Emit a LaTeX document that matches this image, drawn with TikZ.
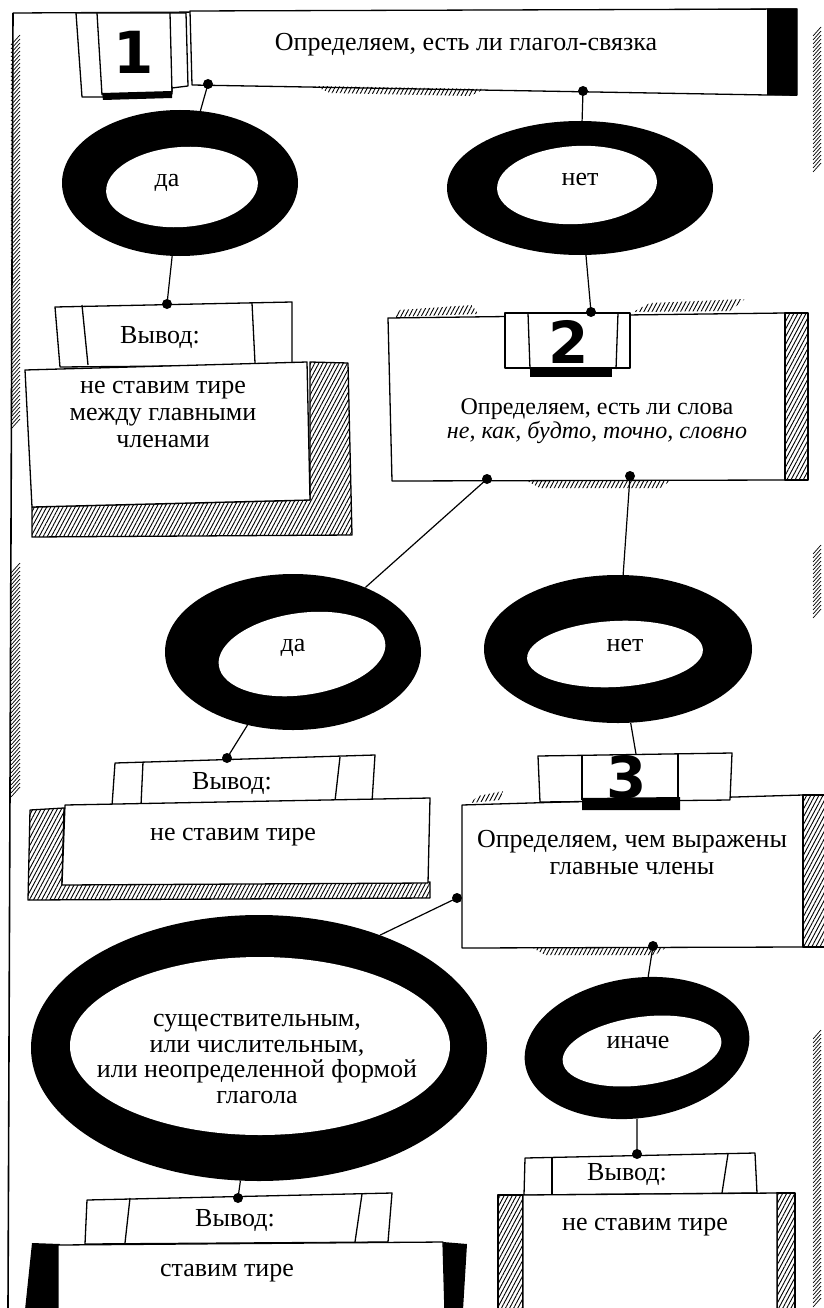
\documentclass[tikz,border=0pt]{standalone}
\usepackage{fontspec}
\setmainfont{Liberation Serif}
\newfontfamily\digitfont{DejaVu Sans}
\usetikzlibrary{shapes.geometric,patterns.meta}
\newcommand\mainsize{\fontsize{26}{27}\selectfont}
\tikzset{
 ln/.style={line width=1.3pt, line join=round},
 boxfill/.style={ln, fill=white},
 hatchfill/.style={pattern={Lines[angle=62,distance=3.6pt,line width=0.9pt]}},
 hatchbox/.style={ln, hatchfill},
 ring/.style={ellipse, fill=black, inner sep=0pt},
 hole/.style={ellipse, fill=white, inner sep=0pt},
 conn/.style={line width=1.2pt},
 txt/.style={font=\mainsize, align=center, inner sep=0pt},
 digit/.style={font=\digitfont\bfseries\fontsize{58}{58}\selectfont, inner sep=0pt},
 edgehatch/.style={line width=0.7pt},
}
\begin{document}
\begin{tikzpicture}[x=1pt,y=-1pt]
\useasboundingbox[fill=white] (0,0) rectangle (823,1308);

% ---------- frame and edge hatching ----------
\draw[ln] (13,13) -- (797,9);
\draw[line width=1.6pt] (13,13) -- (8,1308);
\foreach \yy in {35,39,...,420} { \draw[edgehatch] (11,\yy+10) -- (20,\yy); }
\foreach \yy in {563,567,...,790} { \draw[edgehatch] (11,\yy+10) -- (20,\yy); }
\foreach \yy in {27,31,...,165} { \draw[edgehatch] (813,\yy+9) -- (821,\yy); }
\foreach \yy in {545,549,...,610} { \draw[edgehatch] (813,\yy+9) -- (821,\yy); }
\foreach \yy in {1030,1034,...,1300} { \draw[edgehatch] (813,\yy+9) -- (821,\yy); }

% ---------- box 1 ----------
\draw[boxfill] (190,11) -- (797,9) -- (797,95) -- (767,95) -- (192,85) -- cycle;
\fill (767,9) -- (797,9) -- (797,96) -- (767,95) -- cycle;
\fill[hatchfill] (315,86) -- (485,89) -- (470,96) -- (330,93) -- cycle;
\draw[boxfill] (76,13) -- (186,13) -- (188,86) -- (172,88) -- (172,94) -- (102,97) -- (82,97) -- cycle;
\draw[ln] (97,13) -- (102,95);
\draw[ln] (170,13) -- (172,92);
\fill (102,93) -- (172,91) -- (172,98) -- (103,100) -- cycle;
\node[digit] (n1) at (134,52) {1};
\node[txt] (t1) at (466,45) {Определяем, есть ли глагол-связка};
\coordinate (d1a) at (208,84);
\coordinate (d1b) at (583,91);

% ---------- ellipse да (1) ----------
\node[ring, minimum width=236pt, minimum height=146pt] (e1) at (180,183) {};
\node[hole, minimum width=152pt, minimum height=80pt, rotate=4] (e1i) at (182,187) {};
\node[txt] (e1t) at (167,183) {да};

% ---------- ellipse нет (1) ----------
\node[ring, minimum width=266pt, minimum height=134pt] (e2) at (580,188) {};
\node[hole, minimum width=160pt, minimum height=78pt, rotate=3] (e2i) at (577,185) {};
\node[txt] (e2t) at (580,180) {нет};

% ---------- Вывод 1 ----------
\draw[boxfill] (55,307) -- (292,302) -- (292,365) -- (60,367) -- cycle;
\draw[ln] (82,305) -- (88,365);
\draw[ln] (252,303) -- (255,363);
\node[txt] (v1) at (160,337) {Вывод:};
\draw[hatchbox] (310,362) -- (348,363) -- (352,535) -- (32,537) -- (32,507) -- (310,500) -- cycle;
\draw[boxfill] (25,370) -- (307,362) -- (310,500) -- (32,507) -- cycle;
\node[txt] (r1) at (163,414) {не ставим тире\\между главными\\членами};
\coordinate (d2) at (167,304);

% ---------- box 2 ----------
\fill[hatchfill] (393,317) -- (400,310) -- (472,305) -- (478,314) -- cycle;
\fill[hatchfill] (633,312) -- (650,303) -- (745,299) -- (730,311) -- cycle;
\fill[hatchfill] (527,481) -- (673,479) -- (660,488) -- (540,488) -- cycle;
\draw[boxfill] (388,318) -- (785,313) -- (785,480) -- (392,481) -- cycle;
\draw[hatchbox] (785,313) -- (808,313) -- (808,480) -- (785,480) -- cycle;
\draw[boxfill] (505,313) -- (630,313) -- (630,368) -- (505,368) -- cycle;
\draw[ln] (528,313) -- (530,369);
\draw[ln] (618,313) -- (616,369);
\fill (530,367) -- (612,367) -- (612,377) -- (530,377) -- cycle;
\node[digit] (n2) at (569,342) {2};
\node[txt, font=\fontsize{24}{24}\selectfont] (t2) at (597,421) {Определяем, есть ли слова\\\textit{не, как, будто, точно, словно}};
\coordinate (d3) at (591,312);
\coordinate (d4) at (487,479);
\coordinate (d5) at (630,476);

% ---------- ellipse да (2) ----------
\node[ring, minimum width=256pt, minimum height=156pt] (e3) at (293,652) {};
\node[hole, minimum width=168pt, minimum height=82pt, rotate=8] (e3i) at (302,654) {};
\node[txt] (e3t) at (293,648) {да};

% ---------- ellipse нет (2) ----------
\node[ring, minimum width=268pt, minimum height=148pt] (e4) at (618,649) {};
\node[hole, minimum width=176pt, minimum height=66pt, rotate=3] (e4i) at (615,654) {};
\node[txt] (e4t) at (625,645) {нет};

% ---------- Вывод 2 ----------
\draw[boxfill] (115,763) -- (375,755) -- (372,802) -- (112,806) -- cycle;
\draw[ln] (143,762) -- (141,805);
\draw[ln] (340,757) -- (335,801);
\node[txt] (v2) at (232,783) {Вывод:};
\draw[hatchbox] (30,810) -- (64,808) -- (62,884) -- (430,882) -- (430,898) -- (28,900) -- cycle;
\draw[boxfill] (65,805) -- (430,798) -- (428,883) -- (62,885) -- cycle;
\node[txt] (r2) at (233,837) {не ставим тире};
\coordinate (d6) at (227,758);

% ---------- box 3 ----------
\fill[hatchfill] (470,803) -- (478,796) -- (503,791) -- (500,800) -- cycle;
\fill[hatchfill] (533,948) -- (667,947) -- (655,955) -- (545,955) -- cycle;
\draw[boxfill] (462,805) -- (803,795) -- (803,947) -- (462,948) -- cycle;
\draw[hatchbox] (803,795) -- (825,795) -- (825,947) -- (803,947) -- cycle;
\draw[boxfill] (538,756) -- (732,753) -- (730,800) -- (540,802) -- cycle;
\draw[ln] (582,755) -- (582,800);
\draw[ln] (678,754) -- (678,800);
\fill (582,798) -- (680,797) -- (680,810) -- (582,810) -- cycle;
\node[digit] (n3) at (627,777) {3};
\node[txt] (t3) at (632,853) {Определяем, чем выражены\\главные члены};
\coordinate (c3) at (636,754);
\coordinate (d7) at (457,898);
\coordinate (d8) at (653,946);

% ---------- big ellipse ----------
\node[ring, minimum width=456pt, minimum height=266pt] (e5) at (259,1048) {};
\node[hole, minimum width=380pt, minimum height=178pt] (e5i) at (260,1046) {};
\node[txt, font=\fontsize{26}{25.5}\selectfont] (e5t) at (257,1059) {существительным,\\или числительным,\\или неопределенной формой\\глагола};
\coordinate (d9) at (238,1198);

% ---------- ellipse иначе ----------
\node[ring, minimum width=226pt, minimum height=140pt, rotate=8] (e6) at (637,1048) {};
\node[hole, minimum width=160pt, minimum height=68pt, rotate=8] (e6i) at (642,1051) {};
\node[txt] (e6t) at (638,1042) {иначе};
\coordinate (d10) at (637,1154);

% ---------- Вывод 3 ----------
\draw[boxfill] (87,1200) -- (392,1193) -- (388,1242) -- (85,1244) -- cycle;
\draw[ln] (130,1198) -- (125,1243);
\draw[ln] (362,1194) -- (355,1242);
\node[txt] (v3) at (235,1220) {Вывод:};
\fill (32,1243) -- (60,1244) -- (58,1310) -- (25,1310) -- cycle;
\fill (443,1242) -- (467,1244) -- (463,1310) -- (445,1310) -- cycle;
\draw[boxfill] (58,1245) -- (443,1242) -- (445,1312) -- (58,1312) -- cycle;
\node[txt] (r3) at (227,1273) {ставим тире};

% ---------- Вывод 4 ----------
\draw[boxfill] (525,1158) -- (755,1153) -- (757,1193) -- (524,1195) -- cycle;
\draw[ln] (552,1157) -- (552,1195);
\draw[ln] (728,1154) -- (722,1193);
\node[txt] (v4) at (627,1174) {Вывод:};
\draw[hatchbox] (498,1195) -- (523,1195) -- (523,1312) -- (498,1312) -- cycle;
\draw[hatchbox] (777,1193) -- (795,1193) -- (795,1312) -- (777,1312) -- cycle;
\draw[boxfill] (523,1195) -- (777,1193) -- (777,1312) -- (523,1312) -- cycle;
\node[txt] (r4) at (645,1227) {не ставим тире};

% ---------- connectors ----------
\draw[conn] (d1a) -- (e1);
\draw[conn] (e1) -- (d2);
\draw[conn] (d1b) -- (e2);
\draw[conn] (e2) -- (d3);
\draw[conn] (d4) -- (e3);
\draw[conn] (e3) -- (d6);
\draw[conn] (d5) -- (e4);
\draw[conn] (e4) -- (c3);
\draw[conn] (d7) -- (e5.43);
\draw[conn] (e5) -- (d9);
\draw[conn] (d8) -- (e6);
\draw[conn] (e6) -- (d10);

% ---------- dots ----------
\foreach \p in {d1a,d1b,d2,d3,d4,d5,d6,d7,d8,d9,d10} { \fill (\p) circle[radius=5pt]; }
\end{tikzpicture}
\end{document}
